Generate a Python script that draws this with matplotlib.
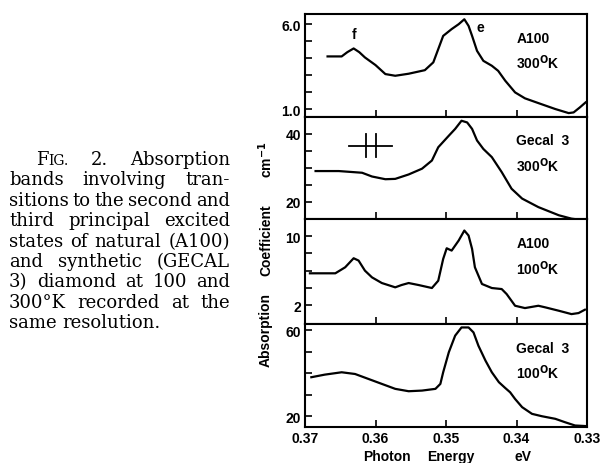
import numpy as np
import matplotlib.pyplot as plt

plt.rcParams['font.family'] = ['Liberation Sans', 'DejaVu Sans']
plt.rcParams['font.weight'] = 'bold'

# A100, 300 K
e1 = [0.3668, 0.3648, 0.3640, 0.3631, 0.3623, 0.3615, 0.3600, 0.3586, 0.3572, 0.3553,
      0.3530, 0.3518, 0.3511, 0.3504, 0.3492, 0.3482, 0.3474, 0.3468, 0.3463, 0.3456,
      0.3447, 0.3435, 0.3426, 0.3416, 0.3402, 0.3388, 0.3369, 0.3345, 0.3326, 0.3319,
      0.3310, 0.3302]
a1 = [4.10, 4.10, 4.35, 4.57, 4.35, 4.04, 3.59, 3.06, 2.96, 3.08,
      3.29, 3.75, 4.53, 5.31, 5.71, 6.00, 6.29, 5.90, 5.31, 4.43,
      3.84, 3.55, 3.25, 2.67, 1.98, 1.63, 1.35, 1.00, 0.76, 0.80,
      1.10, 1.39]

# Gecal 3, 300 K
e2 = [0.3685, 0.3652, 0.3619, 0.3605, 0.3586, 0.3572, 0.3553, 0.3534, 0.3520, 0.3511,
      0.3496, 0.3487, 0.3478, 0.3470, 0.3463, 0.3456, 0.3447, 0.3435, 0.3421, 0.3407,
      0.3392, 0.3369, 0.3340, 0.3322, 0.3303]
a2 = [29.1, 29.1, 28.6, 27.5, 26.7, 26.8, 28.1, 29.8, 32.2, 36.1,
      39.5, 41.5, 43.9, 43.4, 41.5, 38.1, 35.6, 33.2, 28.8, 23.9,
      21.0, 18.5, 16.1, 15.1, 14.6]

# A100, 100 K
e3 = [0.3693, 0.3657, 0.3643, 0.3631, 0.3624, 0.3615, 0.3605, 0.3591, 0.3572, 0.3563,
      0.3553, 0.3539, 0.3520, 0.3511, 0.3504, 0.3499, 0.3492, 0.3482, 0.3474, 0.3468,
      0.3463, 0.3459, 0.3449, 0.3435, 0.3421, 0.3414, 0.3402, 0.3388, 0.3369, 0.3359,
      0.3340, 0.3322, 0.3312, 0.3303]
a3 = [5.69, 5.69, 6.39, 7.44, 7.17, 6.00, 5.22, 4.56, 4.06, 4.33,
      4.56, 4.33, 3.98, 4.83, 7.36, 8.60, 8.33, 9.50, 10.66, 10.08,
      8.52, 6.39, 4.45, 3.98, 3.86, 3.28, 1.92, 1.65, 1.92, 1.73,
      1.34, 0.95, 1.07, 1.46]

# Gecal 3, 100 K
e4 = [0.3691, 0.3672, 0.3648, 0.3629, 0.3610, 0.3591, 0.3572, 0.3553, 0.3534, 0.3515,
      0.3508, 0.3504, 0.3496, 0.3487, 0.3478, 0.3468, 0.3461, 0.3454, 0.3444, 0.3435,
      0.3425, 0.3416, 0.3409, 0.3402, 0.3392, 0.3378, 0.3364, 0.3345, 0.3331, 0.3317,
      0.3300]
a4 = [38.1, 39.3, 40.4, 39.6, 37.3, 35.0, 32.7, 31.6, 31.9, 32.7,
      35.0, 40.4, 49.7, 57.4, 61.2, 61.2, 58.9, 52.7, 45.8, 40.4,
      35.8, 33.1, 31.1, 28.0, 24.2, 21.1, 20.0, 18.8, 17.2, 15.7,
      15.4]

x_ticks = [0.37, 0.36, 0.35, 0.34, 0.33]
x_ticklabels = ['0.37', '0.36', '0.35', '0.34', '0.33']

panels = [
    (e1, a1, (0.53, 6.6), [1, 2, 3, 4, 5, 6], ['1.0', '', '', '', '', '6.0'], 'A100', '300$^{\\rm O}$K'),
    (e2, a2, (15, 45), [20, 25, 30, 35, 40], ['20', '', '', '', '40'], 'Gecal  3', '300$^{\\rm O}$K'),
    (e3, a3, (-0.2, 12), [2, 4, 6, 8, 10], ['2', '', '', '', '10'], 'A100', '100$^{\\rm O}$K'),
    (e4, a4, (15, 62.8), [20, 30, 40, 50, 60], ['20', '', '', '', '60'], 'Gecal  3', '100$^{\\rm O}$K'),
]
# panel edges in pixels from the top of the figure
edges = [15, 118, 220, 325, 428]

# resolution marker (panel 2)
res_line_x = [0.3638, 0.3576]
res_line_y = 36.5
res_bars_x = [0.3613, 0.3600]
res_bars_y = [33.3, 40.0]

caption = ["2. Absorption",
           "bands involving tran-",
           "sitions to the second and",
           "third principal excited",
           "states of natural (A100)",
           "and synthetic (GECAL",
           "3) diamond at 100 and",
           "300\u00b0K recorded at the",
           "same resolution."]

W, H = 600, 464
fig = plt.figure(figsize=(W / 100, H / 100), dpi=100)
fig.patch.set_facecolor('white')

axes = []
for i, (ex, ay, ylim, yt, ytl, lab1, lab2) in enumerate(panels):
    top, bot = edges[i], edges[i + 1]
    ax = fig.add_axes([305 / W, 1 - bot / H, 282 / W, (bot - top) / H])
    ax.plot(ex, ay, color='black', lw=1.6)
    ax.set_xlim(0.37, 0.33)
    ax.set_ylim(*ylim)
    ax.set_yticks(yt)
    ax.set_yticklabels(ytl, fontsize=10, fontweight='bold')
    ax.set_xticks(x_ticks)
    ax.tick_params(direction='in', length=5, width=1.2, pad=3)
    if i < 3:
        ax.set_xticklabels([])
    else:
        ax.set_xticklabels(x_ticklabels, fontsize=10, fontweight='bold')
    for s in ax.spines.values():
        s.set_linewidth(1.5)
    ax.text(0.75, 0.77, lab1, transform=ax.transAxes, fontsize=10, fontweight='bold', va='center')
    ax.text(0.75, 0.535, lab2, transform=ax.transAxes, fontsize=10, fontweight='bold', va='center')
    axes.append(ax)

axes[0].text(0.3630, 5.41, 'f', fontsize=10, fontweight='bold', ha='center', va='center')
axes[0].text(0.3451, 5.82, 'e', fontsize=10, fontweight='bold', ha='center', va='center')

axes[1].plot(res_line_x, [res_line_y, res_line_y], color='black', lw=1.3)
for bx in res_bars_x:
    axes[1].plot([bx, bx], res_bars_y, color='black', lw=1.3)

# y label, words spaced as in the print
for word, yc in [('Absorption', 330), ('Coefficient', 240), ('cm$^{-1}$', 160)]:
    fig.text(266 / W, 1 - yc / H, word, rotation=90, fontsize=10, fontweight='bold',
             ha='center', va='center')

for word, xc in [('Photon', 387), ('Energy', 451), ('eV', 523)]:
    fig.text(xc / W, 1 - 457 / H, word, fontsize=10, fontweight='bold', ha='center', va='center')

# caption, justified between two edges
r = fig.canvas.get_renderer()
cap_kw = dict(family='DejaVu Serif', fontsize=13, fontweight='normal', va='baseline')
x_left, x_right = 9, 230
for i, line in enumerate(caption):
    yb = 1 - (165 + 20.4 * i) / H
    words = line.split()
    x0 = x_left
    parts = []
    if i == 0:
        x0 = 36
        t1 = fig.text(0, yb, 'F', **cap_kw)
        t2 = fig.text(0, yb, 'IG.', family='DejaVu Serif', fontsize=10, fontweight='normal',
                      va='baseline')
        w1 = t1.get_window_extent(r).width
        w2 = t2.get_window_extent(r).width
        parts.append(([t1, t2], [0, w1], w1 + w2))
    for w in words:
        t = fig.text(0, yb, w, **cap_kw)
        parts.append(([t], [0], t.get_window_extent(r).width))
    total = sum(p[2] for p in parts)
    if i < len(caption) - 1:
        gap = (x_right - x0 - total) / (len(parts) - 1)
    else:
        gap = 6
    x = x0
    for ts, offs, wd in parts:
        for t, o in zip(ts, offs):
            t.set_x((x + o) / W)
        x += wd + gap

fig.savefig('out.png', dpi=100, facecolor='white')
